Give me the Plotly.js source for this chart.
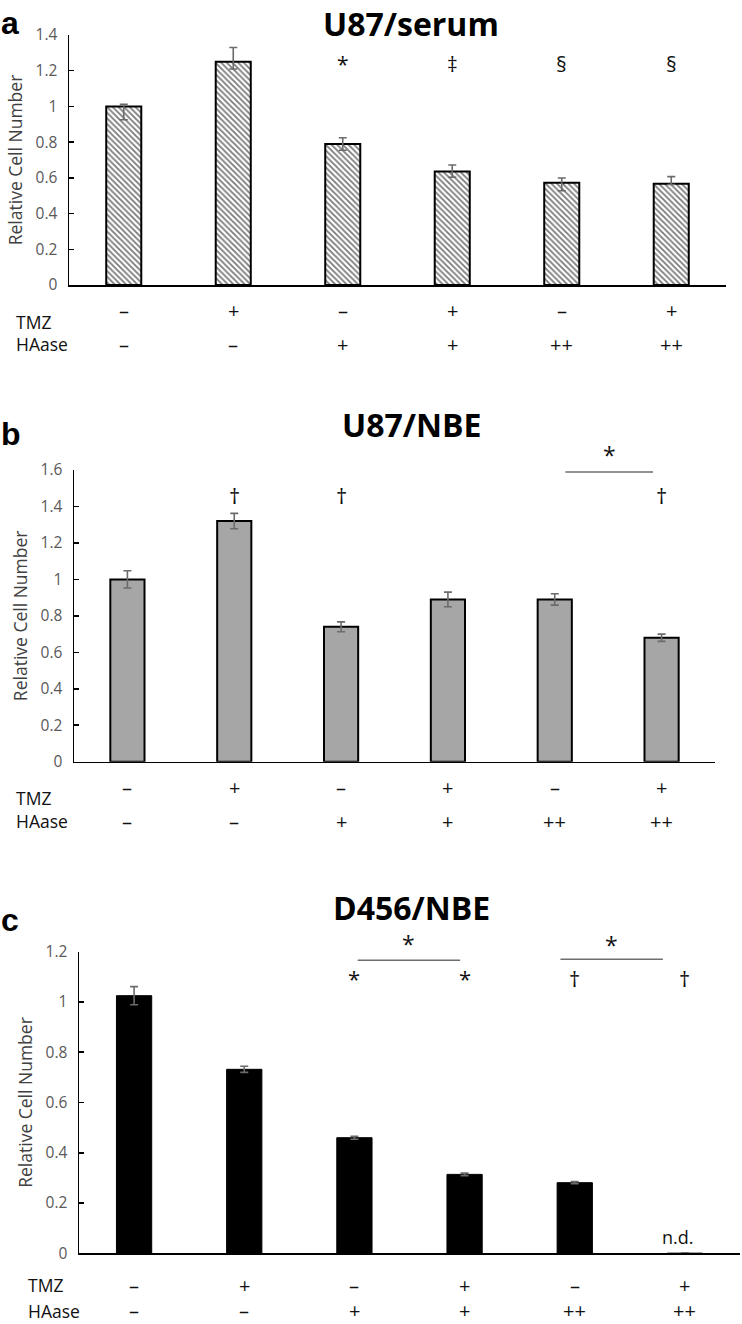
<!DOCTYPE html>
<html>
<head>
<meta charset="utf-8">
<script src="https://cdn.plot.ly/plotly-3.0.1.min.js"></script>
<style>
html, body { margin: 0; padding: 0; background: #fff; }
#chart { width: 742px; height: 1324px; }
</style>
</head>
<body>
<div id="chart"></div>
<script>
// ---------------- data ----------------
const conditions = ['TMZ−/HAase−', 'TMZ+/HAase−', 'TMZ−/HAase+', 'TMZ+/HAase+', 'TMZ−/HAase++', 'TMZ+/HAase++'];
const tmzLabels = ['–', '+', '–', '+', '–', '+'];
const haaseLabels = ['–', '–', '+', '+', '++', '++'];

const serumValues = [1.00, 1.25, 0.79, 0.635, 0.573, 0.567];
const serumErrPlus = [0.012, 0.08, 0.035, 0.037, 0.026, 0.04];
const serumErrMinus = [0.075, 0.04, 0.035, 0.032, 0.045, 0.004];
const serumMarks = ['', '', '*', '‡', '§', '§'];

const nbeValues = [1.00, 1.32, 0.74, 0.89, 0.89, 0.68];
const nbeErr = [0.047, 0.042, 0.027, 0.04, 0.031, 0.02];
const nbeMarks = ['', '†', '†', '', '', '†'];

const d456Values = [1.025, 0.732, 0.46, 0.314, 0.281, 0];
const d456Err = [0.036, 0.012, 0.006, 0.005, 0.004, 0.002];
const d456Marks = ['', '', '*', '*', '†', '†'];

const panelTitles = ['U87/serum', 'U87/NBE', 'D456/NBE'];
const panelLetters = ['a', 'b', 'c'];
const yMax = [1.4, 1.6, 1.2];

// ---------------- layout helpers ----------------
const W = 742, H = 1324;
const py = p => 1 - p / H;           // pixel row -> paper y
const pxp = p => p / W;              // pixel col -> paper x
const FONT = 'Open Sans';
const TICKCOL = '#595959';
const ERRCOL = '#6b6b6b';
const TXT = '#111111';

function barTrace(vals, errP, errM, xa, ya, marker) {
  return {
    type: 'bar', x: conditions, y: vals, xaxis: xa, yaxis: ya,
    width: 0.32, marker: marker, showlegend: false, hoverinfo: 'skip',
    error_y: { type: 'data', symmetric: errM == null, array: errP,
      arrayminus: errM || undefined, color: ERRCOL, thickness: 1.6, width: 4 }
  };
}

const traces = [
  barTrace(serumValues, serumErrPlus, serumErrMinus, 'x', 'y', {
    color: '#ffffff', line: { color: '#000', width: 2 },
    pattern: { shape: '\\', fgcolor: '#7a7a7a', bgcolor: '#ffffff', size: 4, solidity: 0.45 }
  }),
  barTrace(nbeValues, nbeErr, null, 'x2', 'y2', {
    color: '#a6a6a6', line: { color: '#000', width: 2 }
  }),
  barTrace(d456Values, d456Err, null, 'x3', 'y3', {
    color: '#000000', line: { color: '#000', width: 1 }
  })
];

function xax(domain, anchor) {
  return {
    domain: domain, anchor: anchor, type: 'category', range: [-0.5, 5.5], fixedrange: true,
    showticklabels: false, ticks: '', showgrid: false, zeroline: false,
    showline: true, linecolor: '#000', linewidth: 1.5
  };
}
function yax(domain, max, anchor) {
  return {
    domain: domain, range: [0, max], dtick: 0.2, anchor: anchor,
    showgrid: false, zeroline: false, showline: true, linecolor: '#000', linewidth: 1.5,
    ticks: 'inside', ticklen: 5, tickcolor: '#000', tickwidth: 1.5,
    tickfont: { family: FONT, size: 15.5, color: TICKCOL },
    tickformat: '~g', ticklabelstandoff: 7,
    title: { text: 'Relative Cell Number', font: { family: FONT, size: 17.5, color: '#404040' }, standoff: 8 }
  };
}

const domA = [py(285), py(35)], domB = [py(761.7), py(470)], domC = [py(1253.3), py(951.7)];

const annotations = [];
const shapes = [];

function addRows(xref, yTmzSym, yTmzLab, yHa, labX) {
  annotations.push({ xref: 'paper', yref: 'paper', x: pxp(labX), y: py(yTmzLab), text: 'TMZ', borderpad: 0,
    showarrow: false, xanchor: 'left', yanchor: 'middle', font: { family: FONT, size: 17.5, color: TXT } });
  annotations.push({ xref: 'paper', yref: 'paper', x: pxp(labX), y: py(yHa), text: 'HAase', borderpad: 0,
    showarrow: false, xanchor: 'left', yanchor: 'middle', font: { family: FONT, size: 17.5, color: TXT } });
  for (let i = 0; i < conditions.length; i++) {
    annotations.push({ xref: xref, yref: 'paper', x: i, y: py(yTmzSym), text: tmzLabels[i], borderpad: 0,
      showarrow: false, yanchor: 'middle', font: { family: FONT, size: 20, color: TXT } });
    annotations.push({ xref: xref, yref: 'paper', x: i, y: py(yHa), text: haaseLabels[i], borderpad: 0,
      showarrow: false, yanchor: 'middle', font: { family: FONT, size: 20, color: TXT } });
  }
}
// marks are placed at a value on the y axis, expressed in the axis' domain fraction
function addMarks(marks, xref, yname, max, yv, size) {
  marks.forEach((m, i) => {
    if (!m) return;
    annotations.push({ xref: xref, yref: yname + ' domain', x: i, y: yv / max, text: m, showarrow: false,
      yanchor: 'middle', font: { family: FONT, size: size, color: TXT } });
  });
}
function addTitle(t, letter, yc, yl) {
  annotations.push({ xref: 'paper', yref: 'paper', x: pxp(411), y: py(yc), text: '<b>' + t + '</b>', borderpad: 0,
    showarrow: false, xanchor: 'center', yanchor: 'middle', font: { family: FONT, size: 32, color: '#000' } });
  annotations.push({ xref: 'paper', yref: 'paper', x: pxp(0), y: py(yl), text: '<b>' + letter + '</b>', borderpad: 0,
    showarrow: false, xanchor: 'left', yanchor: 'middle', font: { family: 'Liberation Sans', size: 32, color: '#000' } });
}
function addBracket(xref, yname, max, x0, x1, yv, starY) {
  shapes.push({ type: 'line', xref: xref, yref: yname + ' domain', x0: x0, x1: x1, y0: yv / max, y1: yv / max,
    line: { color: '#6e6e6e', width: 1.3 } });
  annotations.push({ xref: xref, yref: yname + ' domain', x: (x0 + x1) / 2, y: starY / max, text: '*', showarrow: false,
    yanchor: 'middle', font: { family: FONT, size: 23, color: TXT } });
}

// Panel a
addTitle(panelTitles[0], panelLetters[0], 23, 23);
addMarks(serumMarks, 'x', 'y', yMax[0], 1.235, 21);
addRows('x', 310.5, 321.5, 344, 15);
// Panel b
addTitle(panelTitles[1], panelLetters[1], 424, 434);
addMarks(nbeMarks, 'x2', 'y2', yMax[1], 1.463, 22);
addBracket('x2', 'y2', yMax[1], 4.1, 4.92, 1.589, 1.68);
addRows('x2', 787, 798, 821, 15);
// Panel c
addTitle(panelTitles[2], panelLetters[2], 908, 920);
addMarks(d456Marks, 'x3', 'y3', yMax[2], 1.095, 22);
addBracket('x3', 'y3', yMax[2], 2.03, 2.96, 1.166, 1.232);
addBracket('x3', 'y3', yMax[2], 3.87, 4.80, 1.17, 1.226);
annotations.push({ xref: 'x3', yref: 'y3', x: 5, y: 0.066, xshift: -7, text: 'n.d.', showarrow: false,
  yanchor: 'middle', font: { family: FONT, size: 18, color: TXT } });
addRows('x3', 1285, 1285, 1310.5, 27);

const layout = {
  width: W, height: H, margin: { l: 0, r: 0, t: 0, b: 0 },
  paper_bgcolor: '#fff', plot_bgcolor: 'rgba(0,0,0,0)',
  showlegend: false,
  xaxis: xax([pxp(69), pxp(726)], 'y'),
  yaxis: yax(domA, yMax[0], 'x'),
  xaxis2: xax([pxp(74), pxp(715)], 'y2'),
  yaxis2: yax(domB, yMax[1], 'x2'),
  xaxis3: xax([pxp(79), pxp(740)], 'y3'),
  yaxis3: yax(domC, yMax[2], 'x3'),
  annotations: annotations,
  shapes: shapes
};

Plotly.newPlot('chart', traces, layout, { staticPlot: true, displayModeBar: false });
</script>
</body>
</html>
